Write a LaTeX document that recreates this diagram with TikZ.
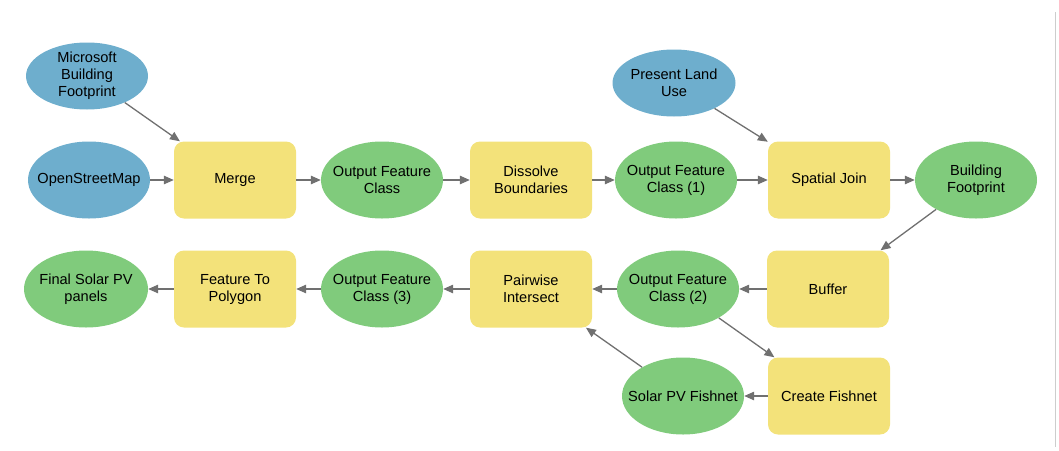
\documentclass[tikz,border=0pt]{standalone}
\usepackage{fontspec}
\setmainfont{Liberation Sans}
\usetikzlibrary{shapes.geometric,arrows.meta}
\definecolor{srcblue}{RGB}{110,174,205}
\definecolor{datagreen}{RGB}{128,203,124}
\definecolor{toolyellow}{RGB}{243,226,122}
\definecolor{linkgray}{RGB}{112,112,112}
\definecolor{framegray}{RGB}{205,205,205}

\begin{document}
\begin{tikzpicture}[x=1pt,y=-1pt,
  every node/.style={font=\fontsize{14.6}{17}\selectfont, align=center, text=black},
  oval/.style={ellipse, inner xsep=-16pt, inner ysep=-4pt, minimum width=122pt},
  srcdata/.style={oval, fill=srcblue},
  outdata/.style={oval, fill=datagreen, minimum height=77pt},
  tool/.style={rectangle, rounded corners=10pt, fill=toolyellow, inner sep=0pt,
    minimum width=122pt, minimum height=77pt},
  link/.style={draw=linkgray, line width=1.3pt,
    -{Triangle[length=10pt,width=8.5pt]}, shorten >=0pt}]

\useasboundingbox (0,0) rectangle (1059,450);

% model inputs
\node[srcdata, minimum height=67pt] (mbf) at (87,76) {Microsoft\\Building\\Footprint};
\node[srcdata, minimum height=77pt] (osm) at (89,180) {OpenStreetMap};
\node[srcdata, minimum height=67pt, minimum width=123pt] (plu) at (674,83) {Present Land\\Use};

% top row
\node[tool] (merge) at (235,180) {Merge};
\node[outdata] (ofc) at (382,180) {Output Feature\\Class};
\node[tool] (dissolve) at (531,180) {Dissolve\\Boundaries};
\node[outdata] (ofc1) at (676,180) {Output Feature\\Class (1)};
\node[tool] (sjoin) at (829,180) {Spatial Join};
\node[outdata] (bfp) at (976,180) {Building\\Footprint};

% bottom row
\node[tool] (buffer) at (828,289) {Buffer};
\node[outdata] (ofc2) at (678,289) {Output Feature\\Class (2)};
\node[tool] (pairwise) at (531,289) {Pairwise\\Intersect};
\node[outdata] (ofc3) at (382,289) {Output Feature\\Class (3)};
\node[tool] (ftp) at (235,289) {Feature To\\Polygon};
\node[outdata, minimum width=124pt] (final) at (86,289) {Final Solar PV\\panels};

% fishnet branch
\node[tool] (cfish) at (829,396) {Create Fishnet};
\node[outdata] (spvf) at (683,396) {Solar PV Fishnet};

% connectors
\draw[link] (mbf) -- (merge);
\draw[link] (osm) -- (merge);
\draw[link] (merge) -- (ofc);
\draw[link] (ofc) -- (dissolve);
\draw[link] (dissolve) -- (ofc1);
\draw[link] (ofc1) -- (sjoin);
\draw[link] (plu) -- (sjoin);
\draw[link] (sjoin) -- (bfp);
\draw[link] (bfp) -- (buffer);
\draw[link] (buffer) -- (ofc2);
\draw[link] (ofc2) -- (pairwise);
\draw[link] (pairwise) -- (ofc3);
\draw[link] (ofc3) -- (ftp);
\draw[link] (ftp) -- (final);
\draw[link] (ofc2) -- (cfish);
\draw[link] (cfish) -- (spvf);
\draw[link] (spvf) -- (pairwise);

% page edge
\draw[framegray, line width=0.8pt] (1055,12) -- (1055,447);
\end{tikzpicture}
\end{document}
